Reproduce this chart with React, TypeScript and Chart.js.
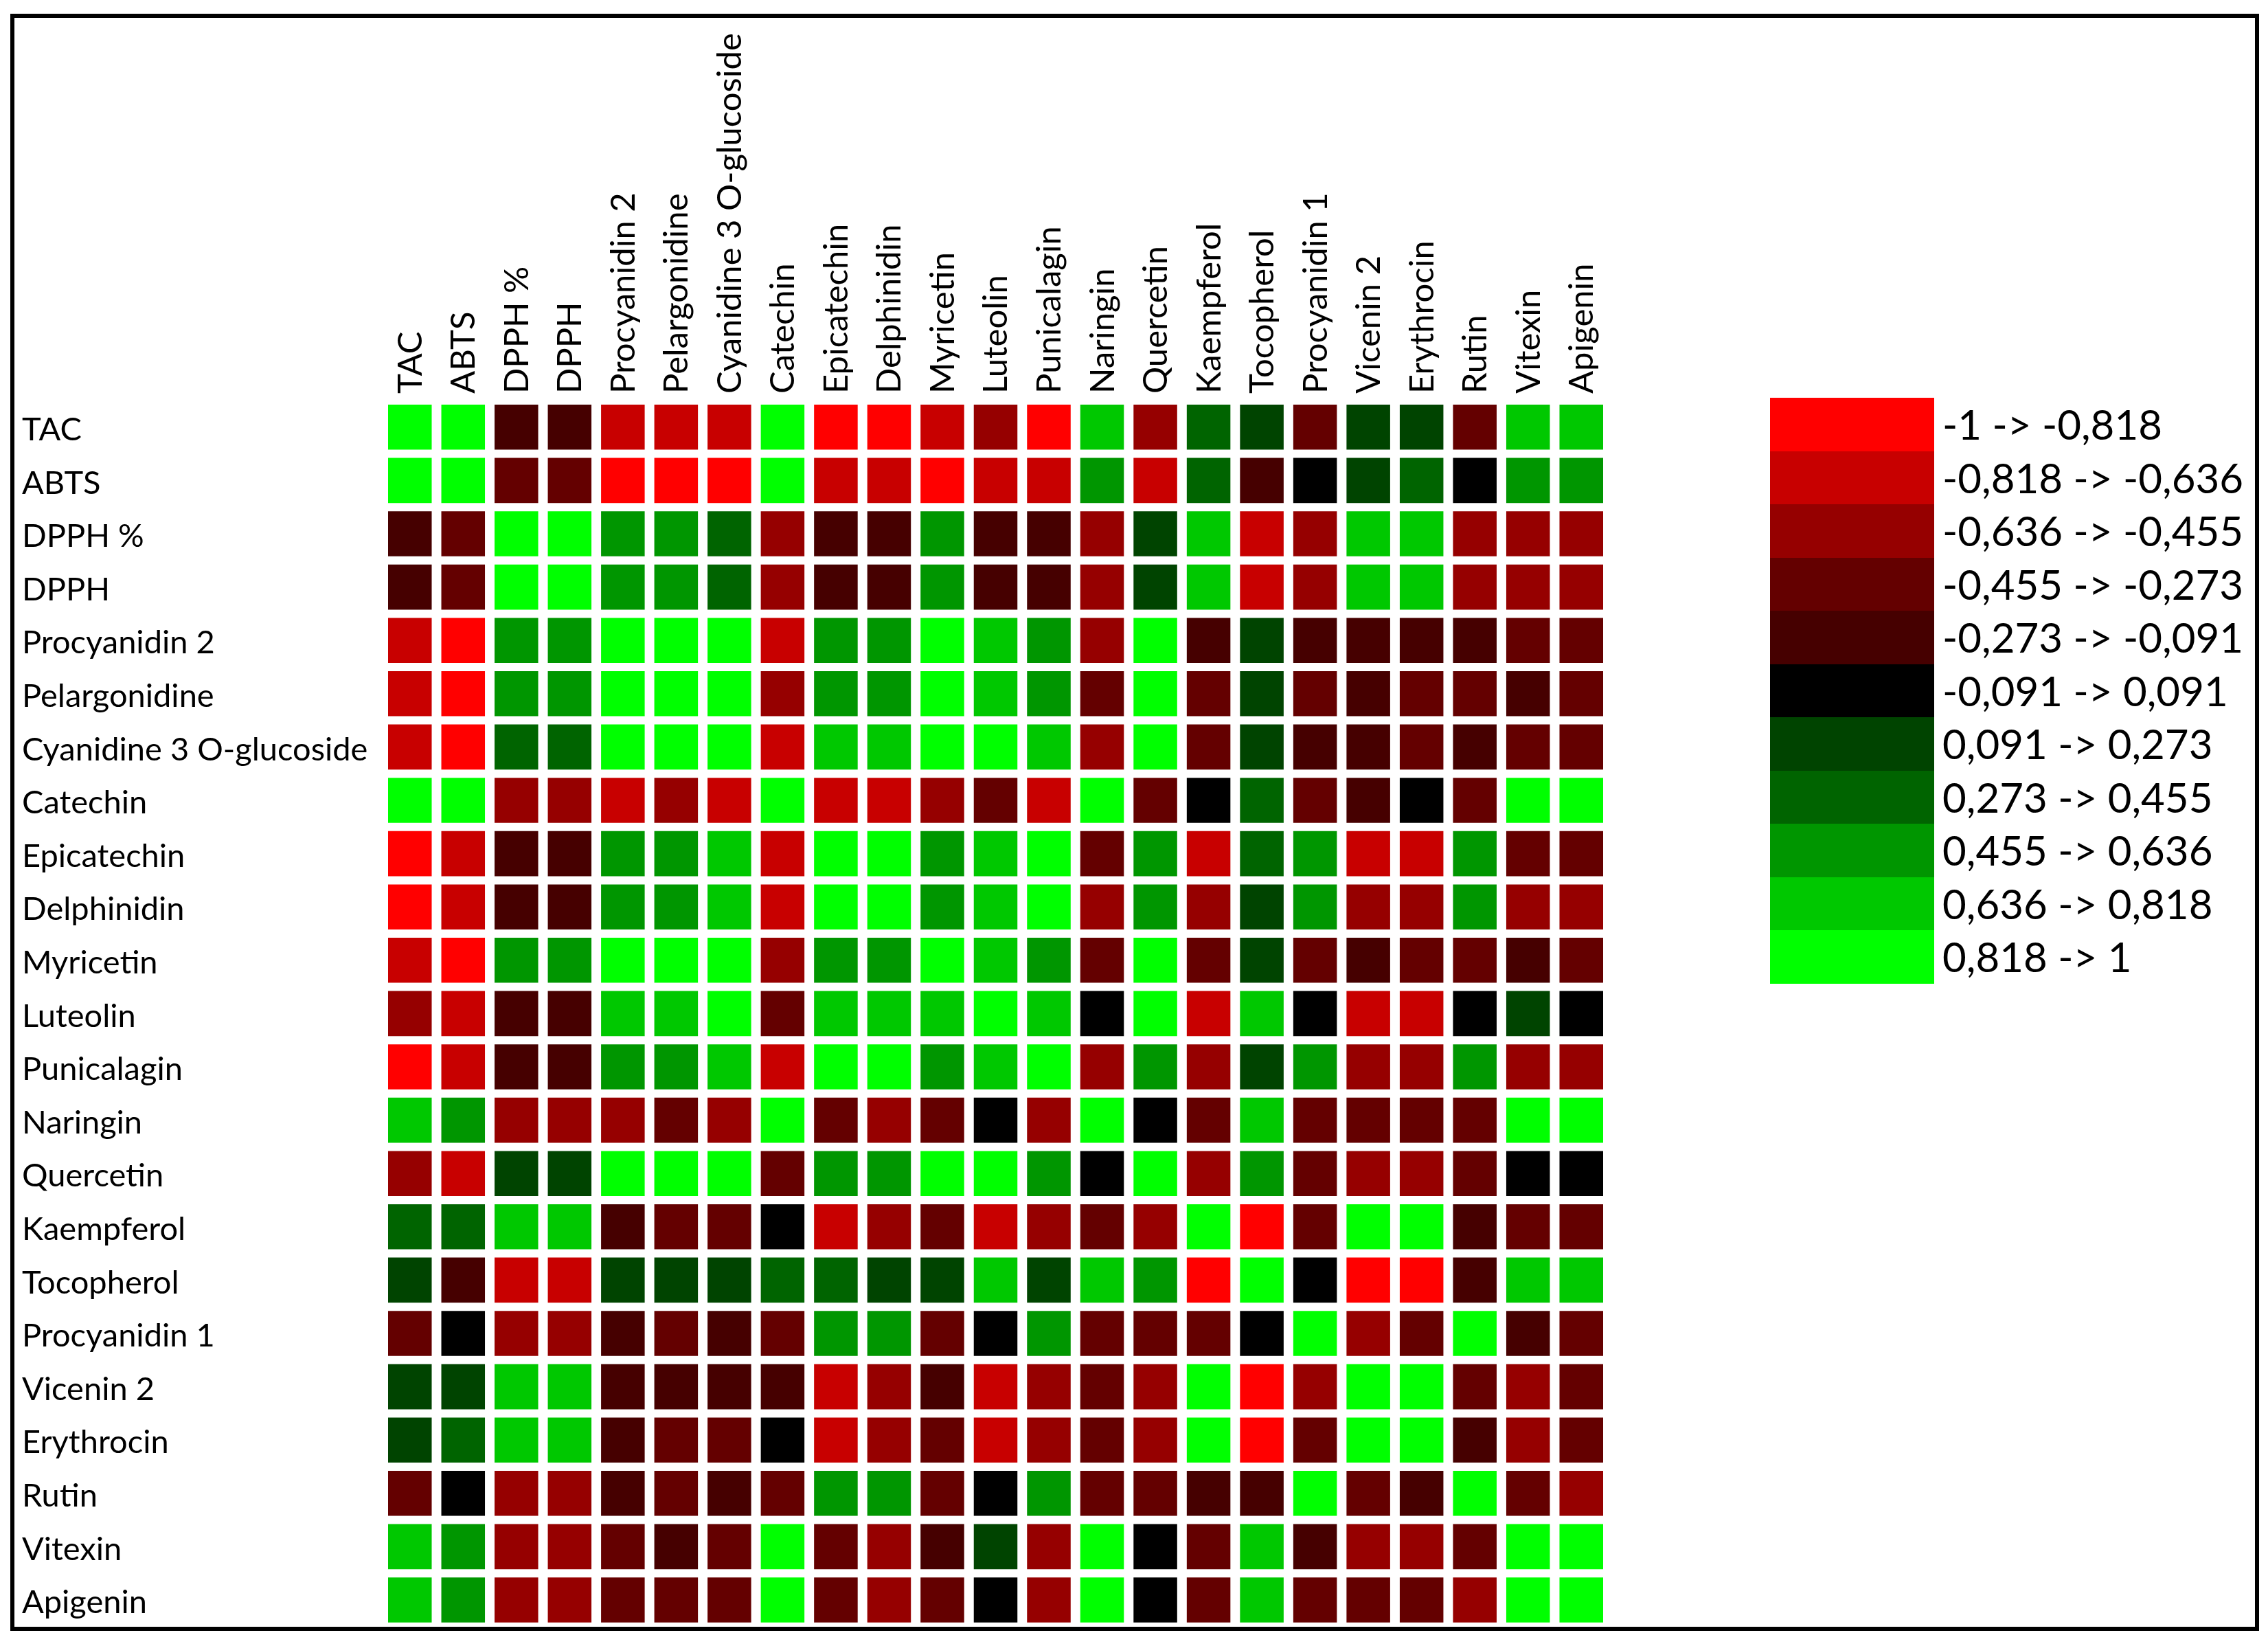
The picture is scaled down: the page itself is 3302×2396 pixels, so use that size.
import React, { useEffect, useRef } from "react";
import { Chart, registerables } from "chart.js";

Chart.register(...registerables);

const variables = [
  "TAC", "ABTS", "DPPH %", "DPPH", "Procyanidin 2", "Pelargonidine",
  "Cyanidine 3 O-glucoside", "Catechin", "Epicatechin", "Delphinidin",
  "Myricetin", "Luteolin", "Punicalagin", "Naringin", "Quercetin",
  "Kaempferol", "Tocopherol", "Procyanidin 1", "Vicenin 2", "Erythrocin",
  "Rutin", "Vitexin", "Apigenin",
];

const rowTAC = [1, 0.91, -0.18, -0.18, -0.73, -0.73, -0.73, 0.91, -0.91, -0.91, -0.73, -0.55, -0.91, 0.73, -0.55, 0.36, 0.18, -0.36, 0.18, 0.18, -0.36, 0.73, 0.73];
const rowABTS = [0.91, 1, -0.36, -0.36, -0.91, -0.91, -0.91, 0.91, -0.73, -0.73, -0.91, -0.73, -0.73, 0.55, -0.73, 0.36, -0.18, 0, 0.18, 0.36, 0, 0.55, 0.55];
const rowDPPHpct = [-0.18, -0.36, 1, 0.91, 0.55, 0.55, 0.36, -0.55, -0.18, -0.18, 0.55, -0.18, -0.18, -0.55, 0.18, 0.73, -0.73, -0.55, 0.73, 0.73, -0.55, -0.55, -0.55];
const rowDPPH = [-0.18, -0.36, 0.91, 1, 0.55, 0.55, 0.36, -0.55, -0.18, -0.18, 0.55, -0.18, -0.18, -0.55, 0.18, 0.73, -0.73, -0.55, 0.73, 0.73, -0.55, -0.55, -0.55];
const rowProcyanidin2 = [-0.73, -0.91, 0.55, 0.55, 1, 0.91, 0.91, -0.73, 0.55, 0.55, 0.91, 0.73, 0.55, -0.55, 0.91, -0.18, 0.18, -0.18, -0.18, -0.18, -0.18, -0.36, -0.36];
const rowPelargonidine = [-0.73, -0.91, 0.55, 0.55, 0.91, 1, 0.91, -0.55, 0.55, 0.55, 0.91, 0.73, 0.55, -0.36, 0.91, -0.36, 0.18, -0.36, -0.18, -0.36, -0.36, -0.18, -0.36];
const rowCyanidine = [-0.73, -0.91, 0.36, 0.36, 0.91, 0.91, 1, -0.73, 0.73, 0.73, 0.91, 0.91, 0.73, -0.55, 0.91, -0.36, 0.18, -0.18, -0.18, -0.36, -0.18, -0.36, -0.36];
const rowCatechin = [0.91, 0.91, -0.55, -0.55, -0.73, -0.55, -0.73, 1, -0.73, -0.73, -0.55, -0.36, -0.73, 0.91, -0.36, 0, 0.36, -0.36, -0.18, 0, -0.36, 0.91, 0.91];
const rowEpicatechin = [-0.91, -0.73, -0.18, -0.18, 0.55, 0.55, 0.73, -0.73, 1, 0.91, 0.55, 0.73, 0.91, -0.36, 0.55, -0.73, 0.36, 0.55, -0.73, -0.73, 0.55, -0.36, -0.36];
const rowDelphinidin = [-0.91, -0.73, -0.18, -0.18, 0.55, 0.55, 0.73, -0.73, 0.91, 1, 0.55, 0.73, 0.91, -0.55, 0.55, -0.55, 0.18, 0.55, -0.55, -0.55, 0.55, -0.55, -0.55];
const rowMyricetin = [-0.73, -0.91, 0.55, 0.55, 0.91, 0.91, 0.91, -0.55, 0.55, 0.55, 1, 0.73, 0.55, -0.36, 0.91, -0.36, 0.18, -0.36, -0.18, -0.36, -0.36, -0.18, -0.36];
const rowLuteolin = [-0.55, -0.73, -0.18, -0.18, 0.73, 0.73, 0.91, -0.36, 0.73, 0.73, 0.73, 1, 0.73, 0, 0.91, -0.73, 0.73, 0, -0.73, -0.73, 0, 0.18, 0];
const rowPunicalagin = [-0.91, -0.73, -0.18, -0.18, 0.55, 0.55, 0.73, -0.73, 0.91, 0.91, 0.55, 0.73, 1, -0.55, 0.55, -0.55, 0.18, 0.55, -0.55, -0.55, 0.55, -0.55, -0.55];
const rowNaringin = [0.73, 0.55, -0.55, -0.55, -0.55, -0.36, -0.55, 0.91, -0.36, -0.55, -0.36, 0, -0.55, 1, 0, -0.36, 0.73, -0.36, -0.36, -0.36, -0.36, 0.91, 0.91];
const rowQuercetin = [-0.55, -0.73, 0.18, 0.18, 0.91, 0.91, 0.91, -0.36, 0.55, 0.55, 0.91, 0.91, 0.55, 0, 1, -0.55, 0.55, -0.36, -0.55, -0.55, -0.36, 0, 0];
const rowKaempferol = [0.36, 0.36, 0.73, 0.73, -0.18, -0.36, -0.36, 0, -0.73, -0.55, -0.36, -0.73, -0.55, -0.36, -0.55, 1, -0.91, -0.36, 0.91, 0.91, -0.18, -0.36, -0.36];
const rowTocopherol = [0.18, -0.18, -0.73, -0.73, 0.18, 0.18, 0.18, 0.36, 0.36, 0.18, 0.18, 0.73, 0.18, 0.73, 0.55, -0.91, 1, 0, -0.91, -0.91, -0.18, 0.73, 0.73];
const rowProcyanidin1 = [-0.36, 0, -0.55, -0.55, -0.18, -0.36, -0.18, -0.36, 0.55, 0.55, -0.36, 0, 0.55, -0.36, -0.36, -0.36, 0, 1, -0.55, -0.36, 0.91, -0.18, -0.36];
const rowVicenin2 = [0.18, 0.18, 0.73, 0.73, -0.18, -0.18, -0.18, -0.18, -0.73, -0.55, -0.18, -0.73, -0.55, -0.36, -0.55, 0.91, -0.91, -0.55, 1, 0.91, -0.36, -0.55, -0.36];
const rowErythrocin = [0.18, 0.36, 0.73, 0.73, -0.18, -0.36, -0.36, 0, -0.73, -0.55, -0.36, -0.73, -0.55, -0.36, -0.55, 0.91, -0.91, -0.36, 0.91, 1, -0.18, -0.55, -0.36];
const rowRutin = [-0.36, 0, -0.55, -0.55, -0.18, -0.36, -0.18, -0.36, 0.55, 0.55, -0.36, 0, 0.55, -0.36, -0.36, -0.18, -0.18, 0.91, -0.36, -0.18, 1, -0.36, -0.55];
const rowVitexin = [0.73, 0.55, -0.55, -0.55, -0.36, -0.18, -0.36, 0.91, -0.36, -0.55, -0.18, 0.18, -0.55, 0.91, 0, -0.36, 0.73, -0.18, -0.55, -0.55, -0.36, 1, 0.91];
const rowApigenin = [0.73, 0.55, -0.55, -0.55, -0.36, -0.36, -0.36, 0.91, -0.36, -0.55, -0.36, 0, -0.55, 0.91, 0, -0.36, 0.73, -0.36, -0.36, -0.36, -0.55, 0.91, 1];

const matrixRows = [
  rowTAC, rowABTS, rowDPPHpct, rowDPPH, rowProcyanidin2, rowPelargonidine,
  rowCyanidine, rowCatechin, rowEpicatechin, rowDelphinidin, rowMyricetin,
  rowLuteolin, rowPunicalagin, rowNaringin, rowQuercetin, rowKaempferol,
  rowTocopherol, rowProcyanidin1, rowVicenin2, rowErythrocin, rowRutin,
  rowVitexin, rowApigenin,
];

const binEdges = [-1, -0.818, -0.636, -0.455, -0.273, -0.091, 0.091, 0.273, 0.455, 0.636, 0.818, 1];
const binColors = [
  "#FF0000", "#C80000", "#960000", "#640000", "#460000", "#000000",
  "#004400", "#006400", "#009600", "#00C800", "#00FF00",
];
const binLabels = [
  "-1 -> -0,818", "-0,818 -> -0,636", "-0,636 -> -0,455", "-0,455 -> -0,273",
  "-0,273 -> -0,091", "-0,091 -> 0,091", "0,091 -> 0,273", "0,273 -> 0,455",
  "0,455 -> 0,636", "0,636 -> 0,818", "0,818 -> 1",
];

function colorFor(v: number): string {
  for (let i = 0; i < binColors.length; i++) {
    if (v <= binEdges[i + 1]) return binColors[i];
  }
  return binColors[binColors.length - 1];
}

const FONT = "Lato, 'Open Sans', sans-serif";

export default function App() {
  const canvasRef = useRef<HTMLCanvasElement | null>(null);

  useEffect(() => {
    const canvas = canvasRef.current;
    if (!canvas) return;
    const datasets = matrixRows.map((vals, r) => ({
      label: variables[r],
      data: vals.map(() => [r, r + 1]),
      backgroundColor: vals.map(colorFor),
      borderColor: "#FFFFFF",
      borderWidth: { left: 7, right: 7, top: 6, bottom: 6 },
      borderSkipped: false as const,
      inflateAmount: 0,
      barPercentage: 1,
      categoryPercentage: 1,
      grouped: false,
      xAxisID: "x",
      yAxisID: "y",
    }));

    const chart = new Chart(canvas, {
      type: "bar",
      data: { labels: variables, datasets: datasets as any },
      options: {
        animation: false,
        responsive: false,
        devicePixelRatio: 1,
        layout: { padding: { left: 32, top: 30, right: 961, bottom: 24 } },
        plugins: { legend: { display: false }, tooltip: { enabled: false } },
        scales: {
          x: {
            type: "category",
            position: "top",
            grid: { display: false, drawTicks: false },
            border: { display: false },
            ticks: {
              autoSkip: false,
              minRotation: 90,
              maxRotation: 90,
              padding: 10,
              labelOffset: 60,
              color: "#000",
              font: { family: FONT, size: 49, lineHeight: 1.2 },
            },
            afterFit: (scale: any) => { scale.height = 553; },
          },
          y: {
            type: "linear",
            display: false,
            min: 0,
            max: variables.length,
            reverse: true,
          },
          yRows: {
            type: "category",
            labels: variables,
            position: "left",
            offset: true,
            grid: { display: false, drawTicks: false },
            border: { display: false },
            ticks: {
              autoSkip: false,
              crossAlign: "far",
              padding: 0,
              labelOffset: 4,
              color: "#000",
              font: { family: FONT, size: 47 },
            },
            afterFit: (scale: any) => { scale.width = 526; },
          },
        } as any,
      },
    });
    return () => chart.destroy();
  }, []);

  return (
    <div style={{ position: "absolute", left: 0, top: 0, width: 3302, height: 2396, background: "#fff", overflow: "hidden" }}>
      <canvas ref={canvasRef} width={3302} height={2396} style={{ position: "absolute", left: 0, top: 0, width: 3302, height: 2396 }} />
      <div style={{ position: "absolute", left: 2577, top: 579, fontFamily: FONT }}>
        {binLabels.map((lab, i) => (
          <div key={lab} style={{ display: "flex", alignItems: "center", height: 77.55 }}>
            <div style={{ width: 239, height: "100%", background: binColors[i] }} />
            <div style={{ marginLeft: 12, fontSize: 60, color: "#000", whiteSpace: "nowrap", lineHeight: "77.55px" }}>{lab}</div>
          </div>
        ))}
      </div>
      <div style={{ position: "absolute", left: 15, top: 20, width: 3274, height: 2354, border: "6px solid #000", boxSizing: "border-box" }} />
    </div>
  );
}
